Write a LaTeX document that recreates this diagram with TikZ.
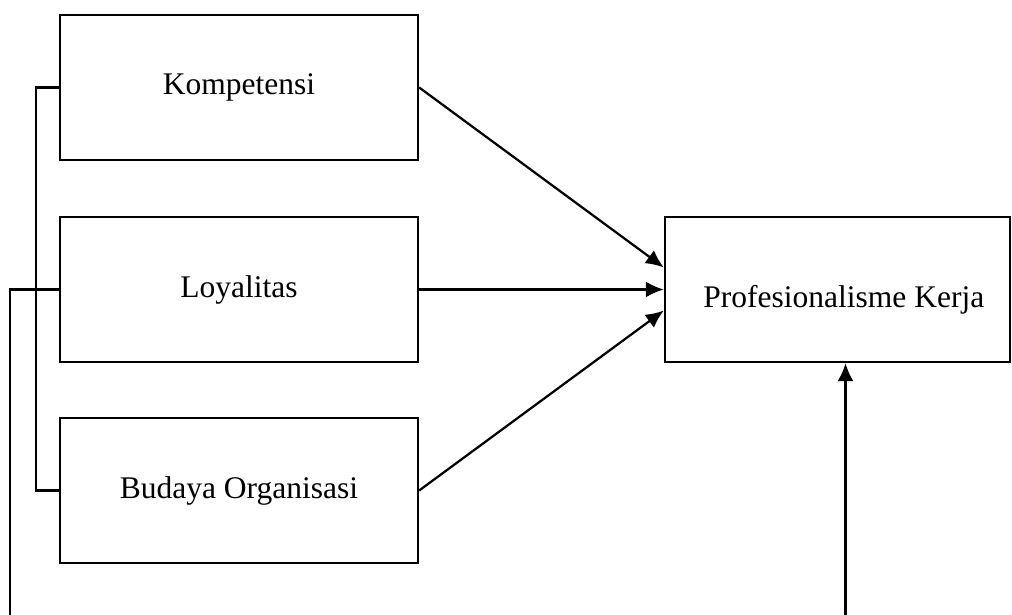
\documentclass[tikz,border=0pt]{standalone}
\usepackage{fontspec}
\setmainfont{Liberation Serif}
\usetikzlibrary{positioning, calc, arrows.meta}

\begin{document}
\begin{tikzpicture}[
          x = 0.025cm, y = -0.025cm,
          line width = 1.6pt,
          font = \fontsize{22.4}{27}\selectfont,
          >={Latex[length=0.45cm, width=0.4cm]}
        ]
          \tikzstyle {varbox} = [draw, shape = rectangle, minimum width = 8.95cm, minimum height = 3.625cm, inner sep = 0]
          \useasboundingbox (0,0) rectangle (1012,615);
          % place nodes
          \path node (komp) [varbox] at (239,87.5) {Kompetensi};
          \path node (loy) [varbox] at (239,289.5) {Loyalitas};
          \path node (bud) [varbox] at (239,490.5) {Budaya Organisasi};
          \path node (prof) [varbox, minimum width = 8.625cm] at (837.5,289.5) {\hspace{9pt}\raisebox{-0.46cm}[0pt][0pt]{Profesionalisme Kerja}};
          % place edges
          \foreach \src/\dy in {komp/-22, loy/0, bud/21}
            { \draw [->] (\src.east) -- ($(prof.west)+(0,\dy)$) ; } ;
          \draw (komp.west) -- ++(-23,0) |- (bud.west);
          \coordinate (below) at (10,640);
          \begin{scope}
            \clip (0,0) rectangle (1012,615);
            \draw [->] (loy.west) -| (below) -| ($(prof.south)+(8,0)$);
          \end{scope}
        \end{tikzpicture}
\end{document}
